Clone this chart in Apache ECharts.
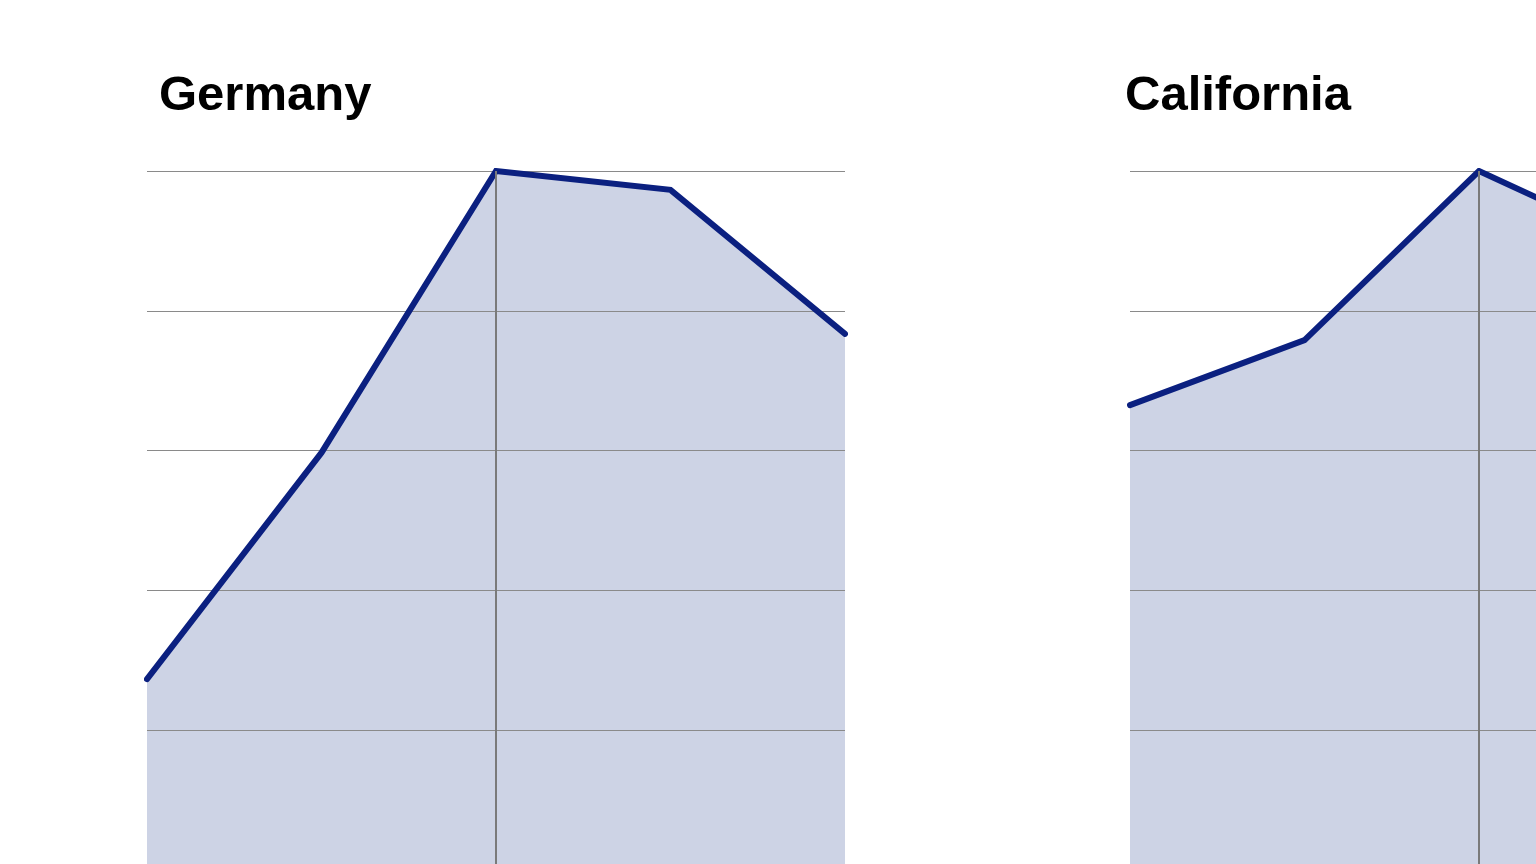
<!DOCTYPE html>
<html>
<head>
<meta charset="utf-8">
<title>Germany / California</title>
<script src="https://cdn.jsdelivr.net/npm/echarts@6/dist/echarts.min.js"></script>
<style>
  html, body { margin: 0; padding: 0; background: #fff; overflow: hidden; }
  /* chart is wider/taller than the window: the right panel runs off the edge */
  #chart { width: 1840px; height: 880px; }
</style>
</head>
<body>
<div id="chart"></div>
<script>
// data
const periods = ["1", "2", "3", "4", "5"];
const germany = [27.3, 59.7, 100, 97.3, 76.7];
const california = [66.5, 75.8, 100, 88.5, 80];
const panelNames = ["Germany", "California"];
const peakIndex = 2;

const navy = "#0b2080";
const fill = "#cdd3e5";
const gridGray = "#8a8a8a";

let myChart = echarts.init(document.getElementById("chart"));

const panels = [germany, california];
const lefts = [147, 1130];
const titleLefts = [159, 1125];

let option = {
  animation: false,
  title: panelNames.map(function (name, i) {
    return {
      text: name,
      left: titleLefts[i],
      top: 72,
      padding: 0,
      textStyle: {
        fontFamily: "Liberation Sans",
        fontWeight: "bold",
        fontSize: 49,
        color: "#000",
      },
    };
  }),
  grid: lefts.map(function (l) {
    return { left: l, top: 171, width: 698, height: 699 };
  }),
  xAxis: panels.map(function (d, i) {
    return {
      type: "category",
      gridIndex: i,
      data: periods,
      boundaryGap: false,
      axisLine: { show: false },
      axisTick: { show: false },
      axisLabel: { show: false },
      splitLine: { show: false },
    };
  }),
  yAxis: panels.map(function (d, i) {
    return {
      type: "value",
      gridIndex: i,
      min: 0,
      max: 100,
      interval: 20,
      z: 2,
      axisLine: { show: false },
      axisTick: { show: false },
      axisLabel: { show: false },
      splitLine: { lineStyle: { color: gridGray, width: 1 } },
    };
  }),
  series: [],
};

panels.forEach(function (d, i) {
  // area underneath the grid lines
  option.series.push({
    type: "line",
    xAxisIndex: i,
    yAxisIndex: i,
    data: d,
    z: 1,
    symbol: "none",
    lineStyle: { width: 0, opacity: 0 },
    areaStyle: { color: fill, opacity: 1 },
  });
  // the line itself on top
  option.series.push({
    type: "line",
    xAxisIndex: i,
    yAxisIndex: i,
    data: d,
    z: 3,
    symbol: "none",
    lineStyle: { color: navy, width: 6, cap: "round", join: "miter" },
    markLine: {
      silent: true,
      symbol: "none",
      label: { show: false },
      lineStyle: { color: "#7a7a7a", width: 2, type: "solid" },
      data: [{ xAxis: peakIndex }],
    },
  });
});

myChart.setOption(option);
</script>
</body>
</html>
